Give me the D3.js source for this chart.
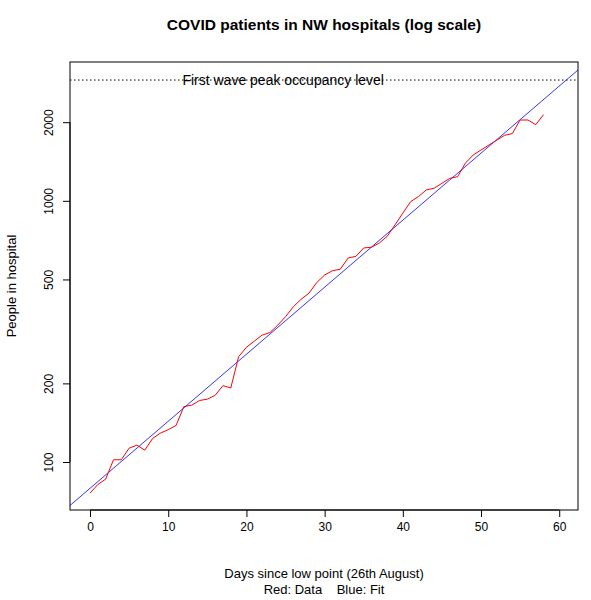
<!DOCTYPE html>
<html>
<head>
<meta charset="utf-8">
<script src="https://cdn.jsdelivr.net/npm/d3@7"></script>
<style>
  body { margin: 0; background: #fff; }
  text { font-family: Arial, "Liberation Sans", sans-serif; }
</style>
</head>
<body>
<svg width="591" height="600"></svg>
<script>
  const days = d3.range(0, 59);
  const patients = [76, 82, 86, 102, 102, 113, 116, 111, 123, 129,
    133, 138, 163, 165, 172, 174, 180, 196, 192, 253,
    275, 290, 306, 313, 334, 360, 393, 420, 443, 487,
    520, 540, 547, 604, 613, 660, 664, 690, 731, 809,
    897, 993, 1038, 1101, 1117, 1167, 1219, 1237, 1393, 1498,
    1565, 1635, 1706, 1781, 1809, 2039, 2039, 1957, 2138];
  const fitStart = 79.3;   // fitted value at day 0
  const fitRate = 0.0591;  // fitted daily growth (log)
  const peakLevel = 2900;
  const xTicks = [0, 10, 20, 30, 40, 50, 60];
  const yTicks = [100, 200, 500, 1000, 2000];

  const svg = d3.select('svg');
  const margin = { top: 62, right: 13, bottom: 90, left: 70 };
  const width = +svg.attr('width');
  const height = +svg.attr('height');
  const innerWidth = width - margin.left - margin.right;
  const innerHeight = height - margin.top - margin.bottom;

  const xScale = d3.scaleLinear().domain([-2.56, 62.4]).range([0, innerWidth]);
  const yScale = d3.scaleLog().domain([65.5, 3400]).range([innerHeight, 0]);

  const g = svg.append('g').attr('transform', `translate(${margin.left},${margin.top})`);

  const xAxisG = g.append('g').attr('transform', `translate(0,${innerHeight})`)
    .call(d3.axisBottom(xScale).tickValues(xTicks).tickSize(7).tickPadding(5).tickFormat(d3.format('d')));
  xAxisG.select('.domain').remove();
  xAxisG.selectAll('text').style('font-size', '12px').attr('fill', '#000');
  xAxisG.append('line').attr('stroke', '#000')
    .attr('x1', xScale(0)).attr('x2', xScale(60));

  const yAxisG = g.append('g')
    .call(d3.axisLeft(yScale).tickValues(yTicks).tickSize(7).tickFormat(d3.format('d')));
  yAxisG.select('.domain').remove();
  yAxisG.selectAll('.tick text')
    .attr('transform', 'rotate(-90)').attr('x', 0).attr('y', -17)
    .attr('dy', 0).style('text-anchor', 'middle')
    .style('font-size', '12px').attr('fill', '#000');
  yAxisG.append('line').attr('stroke', '#000')
    .attr('y1', yScale(100)).attr('y2', yScale(2000));

  g.append('rect').attr('width', innerWidth).attr('height', innerHeight)
    .attr('fill', 'none').attr('stroke', '#000');

  svg.append('clipPath').attr('id', 'clip')
    .append('rect').attr('width', innerWidth).attr('height', innerHeight);

  const plot = g.append('g').attr('clip-path', 'url(#clip)');

  plot.append('line')
    .attr('x1', 0).attr('x2', innerWidth)
    .attr('y1', yScale(peakLevel)).attr('y2', yScale(peakLevel))
    .attr('stroke', '#000').attr('stroke-dasharray', '1.5,2.5');

  const fitLine = d3.line().x(d => xScale(d)).y(d => yScale(fitStart * Math.exp(fitRate * d)));
  plot.append('path').attr('d', fitLine(xScale.domain()))
    .attr('fill', 'none').attr('stroke', '#0000ff').attr('stroke-width', 0.8);

  const dataLine = d3.line().x((d, i) => xScale(days[i])).y(d => yScale(d));
  plot.append('path').attr('d', dataLine(patients))
    .attr('fill', 'none').attr('stroke', '#ff0000').attr('stroke-width', 1);

  g.append('text').attr('x', xScale(24.7)).attr('y', yScale(peakLevel) + 5)
    .attr('text-anchor', 'middle').style('font-size', '14px')
    .text('First wave peak occupancy level');

  svg.append('text').attr('x', margin.left + innerWidth / 2).attr('y', 30)
    .attr('text-anchor', 'middle').style('font-size', '15.5px').style('font-weight', 'bold')
    .text('COVID patients in NW hospitals (log scale)');

  svg.append('text').attr('x', margin.left + innerWidth / 2).attr('y', 578)
    .attr('text-anchor', 'middle').style('font-size', '13px')
    .text('Days since low point (26th August)');
  svg.append('text').attr('x', margin.left + innerWidth / 2).attr('y', 594)
    .attr('text-anchor', 'middle').style('font-size', '13px').attr('xml:space', 'preserve')
    .text('Red: Data    Blue: Fit');

  svg.append('text').attr('transform', `translate(16,${margin.top + innerHeight / 2}) rotate(-90)`)
    .attr('text-anchor', 'middle').style('font-size', '13px')
    .text('People in hospital');
</script>
</body>
</html>
